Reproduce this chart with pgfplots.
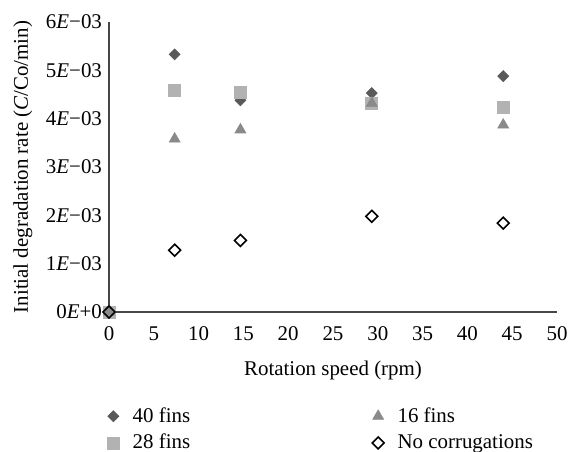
\documentclass[border=0pt]{standalone}
\usepackage{fontspec}
\setmainfont{Liberation Serif}
\usepackage{pgfplots}
\pgfplotsset{compat=1.18}

\definecolor{axisgray}{HTML}{474747}
\definecolor{finsforty}{HTML}{595959}
\definecolor{finstwentyeight}{HTML}{B2B2B2}
\definecolor{finssixteen}{HTML}{8A8A8A}

\begin{document}
\begin{tikzpicture}
\begin{axis}[
    width=224bp, height=145bp, scale only axis,
    xmin=0, xmax=50, ymin=0, ymax=0.006,
    axis x line=bottom, axis y line=left,
    x axis line style={-}, y axis line style={-},
    axis line style={draw=axisgray, line width=1bp},
    xtick={0,5,10,15,20,25,30,35,40,45,50},
    ytick={0,0.001,0.002,0.003,0.004,0.005,0.006},
    yticklabels={0\textit{E}+0, 1\textit{E}−03, 2\textit{E}−03, 3\textit{E}−03, 4\textit{E}−03, 5\textit{E}−03, 6\textit{E}−03},
    scaled y ticks=false,
    major tick length=0pt,
    /pgf/number format/assume math mode=true,
    tick label style={font=\fontsize{10.5}{12}\selectfont},
    xticklabel style={yshift=-4bp},
    label style={font=\fontsize{10.5}{12}\selectfont},
    xlabel={Rotation speed (rpm)},
    xlabel style={yshift=-3bp},
    ylabel={Initial degradation rate (\textit{C}/Co/min)},
    clip=false,
    legend columns=2, transpose legend,
    legend image code/.code={\draw[#1] plot coordinates {(0bp,0bp)}; \path (0bp,0bp) (7.5bp,0bp);},
    legend style={draw=none, fill=none, at={(0,-0.30)}, anchor=north west, xshift=-4bp,
        font=\fontsize{10.5}{12}\selectfont,
        /tikz/every even column/.append style={column sep=89bp},
        row sep=0.5bp},
    legend cell align=left,
]
\addplot[only marks, mark=square*, mark size=1.9pt,
    mark options={rotate=45, fill=finsforty, draw=finsforty}]
    coordinates {(0,0)(7.33,0.00533)(14.67,0.00438)(29.33,0.00453)(44,0.00488)};
\addlegendentry{40 fins}
\addplot[only marks, mark=square*, mark size=3pt,
    mark options={fill=finstwentyeight, draw=finstwentyeight}]
    coordinates {(0,0)(7.33,0.00459)(14.67,0.00455)(29.33,0.00431)(44,0.00424)};
\addlegendentry{28 fins}
\addplot[only marks, mark=triangle*, mark size=3.1pt,
    mark options={fill=finssixteen, draw=finssixteen}]
    coordinates {(0,0)(7.33,0.00358)(14.67,0.00377)(29.33,0.00432)(44,0.00387)};
\addlegendentry{16 fins}
\addplot[only marks, mark=square, mark size=2.1pt,
    mark options={rotate=45, draw=black, line width=0.8pt, fill=none}]
    coordinates {(0,0)(7.33,0.00128)(14.67,0.00148)(29.33,0.00198)(44,0.00184)};
\addlegendentry{No corrugations}
\end{axis}
\pgfresetboundingbox
\path (current axis.south west) ++(-54.5bp,-70bp) rectangle ++(288bp,226bp);
\end{tikzpicture}
\end{document}
